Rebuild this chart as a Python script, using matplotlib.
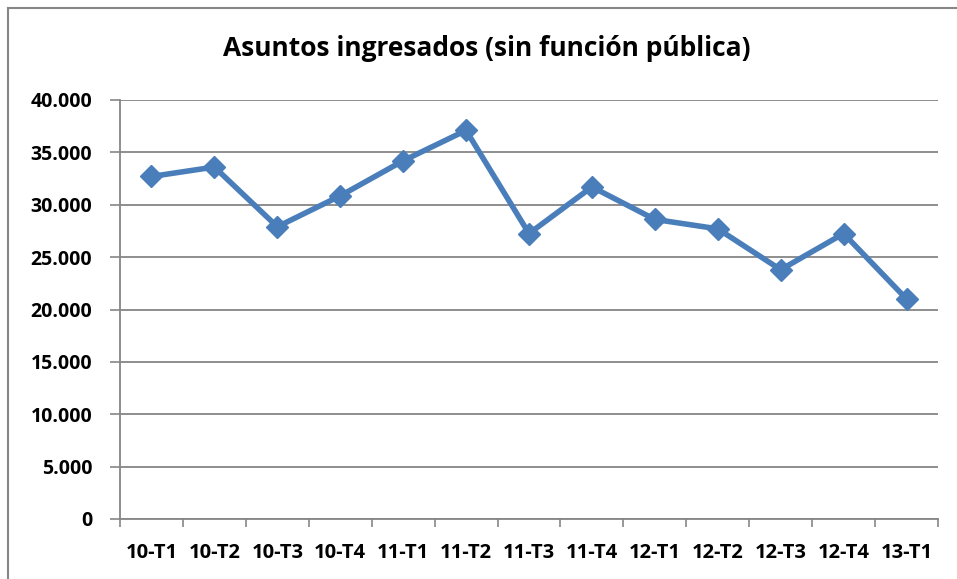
import numpy as np
import matplotlib.pyplot as plt
from matplotlib.lines import Line2D
from matplotlib.ticker import FuncFormatter

plt.rcParams['font.family'] = ['Open Sans', 'DejaVu Sans']

# datos
trimestres = ['10-T1', '10-T2', '10-T3', '10-T4', '11-T1', '11-T2', '11-T3',
              '11-T4', '12-T1', '12-T2', '12-T3', '12-T4', '13-T1']
asuntos = [32700, 33600, 27900, 30850, 34200, 37100, 27250,
           31700, 28600, 27700, 23800, 27250, 21000]

azul = '#4a7ebb'
gris = '#868686'

fig = plt.figure(figsize=(9.57, 5.79), dpi=100)
ax = fig.add_axes([120/957, 60/579, 818/957, 419/579])

x = np.arange(len(trimestres))
ax.plot(x, asuntos, color=azul, lw=4, marker='D', ms=11, mec=azul, mfc=azul, zorder=3)

ax.set_xlim(-0.5, len(trimestres) - 0.5)
ax.set_ylim(0, 40000)
ax.set_yticks(np.arange(0, 40001, 5000))
ax.yaxis.set_major_formatter(FuncFormatter(lambda v, p: f'{int(v):,}'.replace(',', '.')))
ax.set_xticks(x)
ax.set_xticklabels(trimestres)
ax.set_xticks(np.arange(-0.5, len(trimestres)), minor=True)
ax.tick_params(axis='x', which='major', length=0, pad=17)
ax.tick_params(axis='x', which='minor', length=6, color=gris, width=1.2)
ax.tick_params(axis='y', length=7, color=gris, width=1.2, pad=13)
for lab in ax.get_yticklabels():
    lab.set_fontsize(14)
    lab.set_fontweight('bold')
for lab in ax.get_xticklabels():
    lab.set_fontsize(14.5)
    lab.set_fontweight('bold')

ax.grid(axis='y', color=gris, lw=1.3)
ax.set_axisbelow(True)
for s in ['top', 'right']:
    ax.spines[s].set_visible(False)
for s in ['left', 'bottom']:
    ax.spines[s].set_color(gris)
    ax.spines[s].set_linewidth(1.3)

fig.text(487/957, 1 - 48/579, 'Asuntos ingresados (sin función pública)',
         ha='center', va='center', fontsize=19, fontweight='bold')

# borde del area del grafico
fig.add_artist(Line2D([8/957, 8/957], [0, 1 - 8/579], color=gris, lw=1.5, transform=fig.transFigure))
fig.add_artist(Line2D([8/957, 1], [1 - 8/579, 1 - 8/579], color=gris, lw=1.5, transform=fig.transFigure))

fig.savefig('out.png', dpi=100)
